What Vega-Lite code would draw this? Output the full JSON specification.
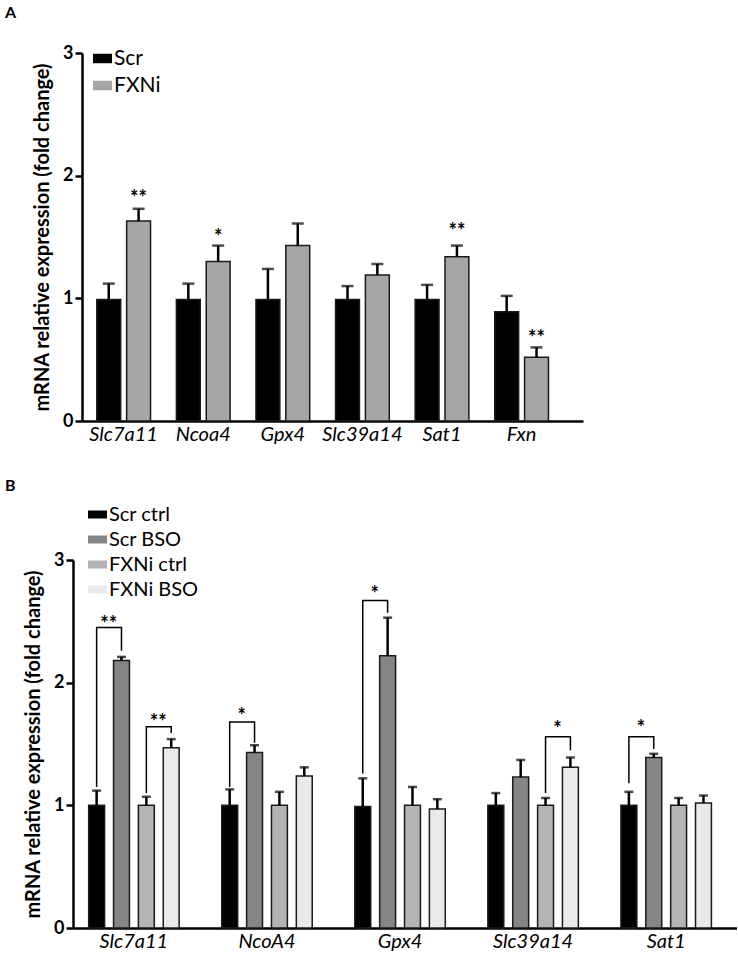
{
  "$schema": "https://vega.github.io/schema/vega-lite/v6.json",
  "padding": {"left": 5, "top": 5, "right": 0, "bottom": 0},
  "background": "white",
  "spacing": 34,
  "resolve": {"scale": {"x": "independent", "xOffset": "independent", "y": "independent", "fill": "independent"}, "legend": {"fill": "independent"}, "axis": {"x": "independent", "y": "independent"}},
  "config": {
    "font": "Lato",
    "view": {"stroke": null},
    "axisY": {"domainWidth": 2.5, "domainColor": "black", "tickColor": "black", "tickWidth": 2.5, "tickSize": 7, "labelFontSize": 18, "labelFontWeight": "bold", "labelColor": "black", "labelPadding": 2, "grid": false, "titleFontSize": 20, "titleFontWeight": "bold", "titlePadding": 10, "titleColor": "black", "labelFont": "Lato", "titleFont": "Lato", "format": "d"},
    "axisX": {"domainWidth": 2.5, "domainColor": "black", "ticks": false, "labelFontSize": 20, "labelFontStyle": "italic", "labelAngle": 0, "labelColor": "black", "labelPadding": 3, "labelFont": "Lato"},
    "title": {"font": "Lato", "fontSize": 16, "fontWeight": "bold", "color": "black", "anchor": "start", "frame": "group"}
  },
  "datasets": {
    "a_bars": [
      {"gene": "Slc7a11", "group": "Scr", "value": 0.99, "err": 1.12},
      {"gene": "Slc7a11", "group": "FXNi", "value": 1.63, "err": 1.73},
      {"gene": "Ncoa4", "group": "Scr", "value": 0.99, "err": 1.12},
      {"gene": "Ncoa4", "group": "FXNi", "value": 1.30, "err": 1.43},
      {"gene": "Gpx4", "group": "Scr", "value": 0.99, "err": 1.24},
      {"gene": "Gpx4", "group": "FXNi", "value": 1.43, "err": 1.61},
      {"gene": "Slc39a14", "group": "Scr", "value": 0.99, "err": 1.10},
      {"gene": "Slc39a14", "group": "FXNi", "value": 1.19, "err": 1.28},
      {"gene": "Sat1", "group": "Scr", "value": 0.99, "err": 1.11},
      {"gene": "Sat1", "group": "FXNi", "value": 1.34, "err": 1.43},
      {"gene": "Fxn", "group": "Scr", "value": 0.89, "err": 1.02},
      {"gene": "Fxn", "group": "FXNi", "value": 0.52, "err": 0.60}
    ],
    "a_sig": [
      {"gene": "Slc7a11", "group": "FXNi", "y": 1.86, "label": "**"},
      {"gene": "Ncoa4", "group": "FXNi", "y": 1.54, "label": "*"},
      {"gene": "Sat1", "group": "FXNi", "y": 1.59, "label": "**"},
      {"gene": "Fxn", "group": "FXNi", "y": 0.72, "label": "**"}
    ],
    "b_bars": [
      {"gene": "Slc7a11", "cond": "Scr ctrl", "value": 1.0, "err": 1.12},
      {"gene": "Slc7a11", "cond": "Scr BSO", "value": 2.18, "err": 2.21},
      {"gene": "Slc7a11", "cond": "FXNi ctrl", "value": 1.0, "err": 1.07},
      {"gene": "Slc7a11", "cond": "FXNi BSO", "value": 1.47, "err": 1.54},
      {"gene": "NcoA4", "cond": "Scr ctrl", "value": 1.0, "err": 1.13},
      {"gene": "NcoA4", "cond": "Scr BSO", "value": 1.43, "err": 1.49},
      {"gene": "NcoA4", "cond": "FXNi ctrl", "value": 1.0, "err": 1.11},
      {"gene": "NcoA4", "cond": "FXNi BSO", "value": 1.24, "err": 1.31},
      {"gene": "Gpx4", "cond": "Scr ctrl", "value": 0.99, "err": 1.22},
      {"gene": "Gpx4", "cond": "Scr BSO", "value": 2.22, "err": 2.53},
      {"gene": "Gpx4", "cond": "FXNi ctrl", "value": 1.0, "err": 1.15},
      {"gene": "Gpx4", "cond": "FXNi BSO", "value": 0.97, "err": 1.05},
      {"gene": "Slc39a14", "cond": "Scr ctrl", "value": 1.0, "err": 1.10},
      {"gene": "Slc39a14", "cond": "Scr BSO", "value": 1.23, "err": 1.37},
      {"gene": "Slc39a14", "cond": "FXNi ctrl", "value": 1.0, "err": 1.06},
      {"gene": "Slc39a14", "cond": "FXNi BSO", "value": 1.31, "err": 1.39},
      {"gene": "Sat1", "cond": "Scr ctrl", "value": 1.0, "err": 1.11},
      {"gene": "Sat1", "cond": "Scr BSO", "value": 1.39, "err": 1.42},
      {"gene": "Sat1", "cond": "FXNi ctrl", "value": 1.0, "err": 1.06},
      {"gene": "Sat1", "cond": "FXNi BSO", "value": 1.02, "err": 1.08}
    ],
    "b_brackets": [
      {"id": 1, "ord": 0, "gene": "Slc7a11", "cond": "Scr ctrl", "y": 1.15},
      {"id": 1, "ord": 1, "gene": "Slc7a11", "cond": "Scr ctrl", "y": 2.45},
      {"id": 1, "ord": 2, "gene": "Slc7a11", "cond": "Scr BSO", "y": 2.45},
      {"id": 1, "ord": 3, "gene": "Slc7a11", "cond": "Scr BSO", "y": 2.26},
      {"id": 2, "ord": 0, "gene": "Slc7a11", "cond": "FXNi ctrl", "y": 1.10},
      {"id": 2, "ord": 1, "gene": "Slc7a11", "cond": "FXNi ctrl", "y": 1.64},
      {"id": 2, "ord": 2, "gene": "Slc7a11", "cond": "FXNi BSO", "y": 1.64},
      {"id": 2, "ord": 3, "gene": "Slc7a11", "cond": "FXNi BSO", "y": 1.59},
      {"id": 3, "ord": 0, "gene": "NcoA4", "cond": "Scr ctrl", "y": 1.15},
      {"id": 3, "ord": 1, "gene": "NcoA4", "cond": "Scr ctrl", "y": 1.68},
      {"id": 3, "ord": 2, "gene": "NcoA4", "cond": "Scr BSO", "y": 1.68},
      {"id": 3, "ord": 3, "gene": "NcoA4", "cond": "Scr BSO", "y": 1.51},
      {"id": 4, "ord": 0, "gene": "Gpx4", "cond": "Scr ctrl", "y": 1.26},
      {"id": 4, "ord": 1, "gene": "Gpx4", "cond": "Scr ctrl", "y": 2.67},
      {"id": 4, "ord": 2, "gene": "Gpx4", "cond": "Scr BSO", "y": 2.67},
      {"id": 4, "ord": 3, "gene": "Gpx4", "cond": "Scr BSO", "y": 2.57},
      {"id": 5, "ord": 0, "gene": "Slc39a14", "cond": "FXNi ctrl", "y": 1.10},
      {"id": 5, "ord": 1, "gene": "Slc39a14", "cond": "FXNi ctrl", "y": 1.56},
      {"id": 5, "ord": 2, "gene": "Slc39a14", "cond": "FXNi BSO", "y": 1.56},
      {"id": 5, "ord": 3, "gene": "Slc39a14", "cond": "FXNi BSO", "y": 1.45},
      {"id": 6, "ord": 0, "gene": "Sat1", "cond": "Scr ctrl", "y": 1.18},
      {"id": 6, "ord": 1, "gene": "Sat1", "cond": "Scr ctrl", "y": 1.56},
      {"id": 6, "ord": 2, "gene": "Sat1", "cond": "Scr BSO", "y": 1.56},
      {"id": 6, "ord": 3, "gene": "Sat1", "cond": "Scr BSO", "y": 1.46}
    ],
    "b_sig": [
      {"gene": "Slc7a11", "cond": "Scr ctrl", "y": 2.52, "label": "**"},
      {"gene": "Slc7a11", "cond": "FXNi ctrl", "y": 1.72, "label": "**"},
      {"gene": "NcoA4", "cond": "Scr ctrl", "y": 1.77, "label": "*"},
      {"gene": "Gpx4", "cond": "Scr ctrl", "y": 2.76, "label": "*"},
      {"gene": "Slc39a14", "cond": "FXNi ctrl", "y": 1.66, "label": "*"},
      {"gene": "Sat1", "cond": "Scr ctrl", "y": 1.67, "label": "*"}
    ]
  },
  "vconcat": [
    {
      "width": 510,
      "height": 368,
      "title": {"text": "A", "dx": -68, "offset": 23},
      "encoding": {
        "x": {"field": "gene", "type": "nominal", "title": null, "scale": {"domain": ["Slc7a11", "Ncoa4", "Gpx4", "Slc39a14", "Sat1", "Fxn"], "rangeMin": 9, "paddingInner": 0.325, "paddingOuter": 0.31, "align": 0.3}},
        "xOffset": {"field": "group", "type": "nominal", "scale": {"domain": ["Scr", "FXNi"], "paddingInner": 0.2, "paddingOuter": 0}}
      },
      "layer": [
        {
          "data": {"name": "a_bars"},
          "mark": {"type": "bar", "stroke": "#1a1a1a", "strokeWidth": 1.5},
          "encoding": {
            "y": {"field": "value", "type": "quantitative", "scale": {"domain": [0, 3]}, "axis": {"values": [0, 1, 2, 3], "offset": -9, "title": "mRNA relative expression (fold change)"}},
            "fill": {"field": "group", "type": "nominal", "scale": {"domain": ["Scr", "FXNi"], "range": ["#000000", "#a6a6a6"]},
              "legend": {"title": null, "orient": "none", "legendX": 19, "legendY": -5, "symbolType": "M-1,-0.5H1V0.5H-1Z", "symbolSize": 361, "symbolStrokeColor": "#1a1a1a", "symbolStrokeWidth": 1.5, "symbolOpacity": 1, "labelFont": "Lato", "labelFontSize": 21, "labelColor": "black", "labelOffset": 1, "rowPadding": 5,
                "encode": {"symbols": {"update": {"fill": {"signal": "datum.value === 'Scr' ? '#4d4d4d' : '#b0b0b0'"}}}}}}
          }
        },
        {
          "data": {"name": "a_bars"},
          "mark": {"type": "rule", "color": "black", "strokeWidth": 2.5},
          "encoding": {"y": {"field": "value", "type": "quantitative"}, "y2": {"field": "err"}}
        },
        {
          "data": {"name": "a_bars"},
          "mark": {"type": "tick", "color": "black", "size": 12, "thickness": 2.5, "orient": "horizontal"},
          "encoding": {"y": {"field": "err", "type": "quantitative"}}
        },
        {
          "data": {"name": "a_sig"},
          "mark": {"type": "text", "fontSize": 20, "fontWeight": "bold", "color": "black", "baseline": "alphabetic", "dy": 12},
          "encoding": {"y": {"field": "y", "type": "quantitative"}, "text": {"field": "label"}}
        }
      ]
    },
    {
      "width": 664,
      "height": 368,
      "title": {"text": "B", "dx": -68, "offset": 10},
      "encoding": {
        "x": {"field": "gene", "type": "nominal", "title": null, "scale": {"domain": ["Slc7a11", "NcoA4", "Gpx4", "Slc39a14", "Sat1"], "paddingInner": 0.32, "paddingOuter": 0.155, "align": 0.38}},
        "xOffset": {"field": "cond", "type": "nominal", "scale": {"domain": ["Scr ctrl", "Scr BSO", "FXNi ctrl", "FXNi BSO"], "paddingInner": 0.36, "paddingOuter": 0}}
      },
      "layer": [
        {
          "data": {"name": "b_bars"},
          "mark": {"type": "bar", "stroke": "#1a1a1a", "strokeWidth": 1.5},
          "encoding": {
            "y": {"field": "value", "type": "quantitative", "scale": {"domain": [0, 3]}, "axis": {"values": [0, 1, 2, 3], "title": "mRNA relative expression (fold change)"}},
            "fill": {"field": "cond", "type": "nominal", "scale": {"domain": ["Scr ctrl", "Scr BSO", "FXNi ctrl", "FXNi BSO"], "range": ["#000000", "#858585", "#b4b4b4", "#e9e9e9"]},
              "legend": {"title": null, "orient": "none", "legendX": 14, "legendY": -56, "symbolType": "M-1,-0.42H1V0.42H-1Z", "symbolSize": 361, "symbolStrokeColor": "#1a1a1a", "symbolStrokeWidth": 1.5, "symbolOpacity": 1, "labelFont": "Lato", "labelFontSize": 20, "labelColor": "black", "labelOffset": 1, "rowPadding": 4,
                "encode": {"symbols": {"update": {"fill": {"signal": "datum.value === 'Scr ctrl' ? '#4a4a4a' : datum.value === 'Scr BSO' ? '#858585' : datum.value === 'FXNi ctrl' ? '#b4b4b4' : '#e9e9e9'"}}}}}}
          }
        },
        {
          "data": {"name": "b_bars"},
          "mark": {"type": "rule", "color": "black", "strokeWidth": 2.5},
          "encoding": {"y": {"field": "value", "type": "quantitative"}, "y2": {"field": "err"}}
        },
        {
          "data": {"name": "b_bars"},
          "mark": {"type": "tick", "color": "black", "size": 9, "thickness": 2.5, "orient": "horizontal"},
          "encoding": {"y": {"field": "err", "type": "quantitative"}}
        },
        {
          "data": {"name": "b_brackets"},
          "mark": {"type": "line", "color": "black", "strokeWidth": 1.5, "interpolate": "linear"},
          "encoding": {"y": {"field": "y", "type": "quantitative"}, "detail": {"field": "id"}, "order": {"field": "ord"}}
        },
        {
          "data": {"name": "b_sig"},
          "mark": {"type": "text", "fontSize": 20, "fontWeight": "bold", "color": "black", "baseline": "alphabetic", "dy": 12, "dx": 12},
          "encoding": {"y": {"field": "y", "type": "quantitative"}, "text": {"field": "label"}}
        }
      ]
    }
  ]
}
